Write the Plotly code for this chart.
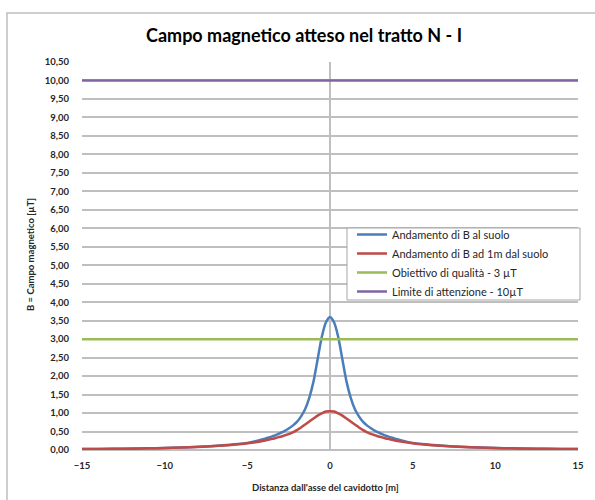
import plotly.graph_objects as go

# Distanza dall'asse del cavidotto [m]
distanza = [-15, -14, -13, -12, -11, -10, -9, -8, -7, -6, -5, -4, -3.75, -3.5, -3.25,
            -3, -2.75, -2.5, -2.25, -2, -1.75, -1.5, -1.25, -1, -0.75, -0.5, -0.25, 0,
            0.25, 0.5, 0.75, 1, 1.25, 1.5, 1.75, 2, 2.25, 2.5, 2.75, 3, 3.25, 3.5, 3.75,
            4, 5, 6, 7, 8, 9, 10, 11, 12, 13, 14, 15]

# Campo magnetico al suolo [µT]
b_suolo = [0.025, 0.029, 0.033, 0.039, 0.046, 0.055, 0.068, 0.085, 0.11, 0.145, 0.19,
           0.30, 0.33, 0.37, 0.41, 0.46, 0.51, 0.58, 0.66, 0.76, 0.91, 1.11, 1.42, 1.85,
           2.45, 3.05, 3.45, 3.60,
           3.45, 3.05, 2.45, 1.85, 1.42, 1.11, 0.91, 0.76, 0.66, 0.58, 0.51, 0.46, 0.41,
           0.37, 0.33, 0.30, 0.19, 0.145, 0.11, 0.085, 0.068, 0.055, 0.046, 0.039, 0.033,
           0.029, 0.025]

# Campo magnetico a 1 m dal suolo [µT]
b_1m = [0.024, 0.028, 0.032, 0.037, 0.044, 0.053, 0.066, 0.082, 0.105, 0.135, 0.18,
        0.25, 0.275, 0.30, 0.33, 0.36, 0.395, 0.43, 0.48, 0.54, 0.61, 0.69, 0.77, 0.85,
        0.93, 0.99, 1.04, 1.05,
        1.04, 0.99, 0.93, 0.85, 0.77, 0.69, 0.61, 0.54, 0.48, 0.43, 0.395, 0.36, 0.33,
        0.30, 0.275, 0.25, 0.18, 0.135, 0.105, 0.082, 0.066, 0.053, 0.044, 0.037, 0.032,
        0.028, 0.024]

# Soglie normative [µT]
limiti_x = [-15, 15]
obiettivo_qualita = [3, 3]
limite_attenzione = [10, 10]

nomi = ["Andamento di B al suolo", "Andamento di B ad 1m dal suolo",
        "Obiettivo di qualità - 3 µT", "Limite di attenzione - 10µT"]
colori = ["#4a7ebb", "#be4b48", "#9bbb59", "#8064a2"]

FONT = "Lato"
GRIGIO = "#bfbfbf"
PLOT_L, PLOT_T, PLOT_W, PLOT_H = 82, 62, 496, 388  # plot area in px


def px_x(p):
    """Horizontal pixel -> paper fraction."""
    return (p - PLOT_L) / PLOT_W


def px_y(p):
    """Vertical pixel (from top) -> paper fraction."""
    return (PLOT_T + PLOT_H - p) / PLOT_H


fig = go.Figure()
fig.add_trace(go.Scatter(x=distanza, y=b_suolo, mode="lines", name=nomi[0],
                         line=dict(color=colori[0], width=2.5, shape="spline", smoothing=0.8)))
fig.add_trace(go.Scatter(x=distanza, y=b_1m, mode="lines", name=nomi[1],
                         line=dict(color=colori[1], width=2.5, shape="spline", smoothing=0.8)))
fig.add_trace(go.Scatter(x=limiti_x, y=obiettivo_qualita, mode="lines", name=nomi[2],
                         line=dict(color=colori[2], width=2.5)))
fig.add_trace(go.Scatter(x=limiti_x, y=limite_attenzione, mode="lines", name=nomi[3],
                         line=dict(color=colori[3], width=2.5)))

fig.update_layout(
    width=595, height=500,
    margin=dict(l=PLOT_L, r=595 - PLOT_L - PLOT_W, t=PLOT_T, b=500 - PLOT_T - PLOT_H),
    paper_bgcolor="white", plot_bgcolor="white",
    separators=", ",
    font=dict(family=FONT, color="#262626"),
    title=dict(text="<b>Campo magnetico atteso nel tratto N - I</b>",
               x=px_x(304), xref="paper", xanchor="center",
               y=1 - 36 / 500, yref="container", yanchor="middle",
               font=dict(family=FONT, size=18, color="#000000")),
    showlegend=True,
    legend=dict(x=px_x(352), y=px_y(220), xanchor="left", yanchor="top",
                bgcolor="rgba(0,0,0,0)", borderwidth=0,
                font=dict(family=FONT, size=11, color="#262626"),
                tracegroupgap=0, itemwidth=30),
    xaxis=dict(range=[-15, 15], tickmode="array", tickvals=[-15, -10, -5, 0, 5, 10, 15],
               showgrid=False, zeroline=True, zerolinecolor=GRIGIO, zerolinewidth=1.5,
               showline=False, ticks="", ticklabelstandoff=8,
               tickfont=dict(family=FONT, size=9.5, color="#262626", weight="bold")),
    yaxis=dict(range=[0, 10.5], dtick=0.5, tick0=0, tickformat=".2f",
               showgrid=True, gridcolor=GRIGIO, gridwidth=1.5,
               zeroline=True, zerolinecolor=GRIGIO, zerolinewidth=1.5,
               showline=False, ticks="", ticklabelstandoff=12,
               tickfont=dict(family=FONT, size=9.5, color="#262626", weight="bold")),
    shapes=[
        # outer chart frame
        dict(type="rect", xref="paper", yref="paper",
             x0=px_x(7), x1=px_x(602), y0=px_y(505), y1=px_y(13),
             line=dict(color=GRIGIO, width=1.5), fillcolor="rgba(0,0,0,0)",
             layer="below"),
        # legend box
        dict(type="rect", xref="paper", yref="paper",
             x0=px_x(347), x1=px_x(580), y0=px_y(300), y1=px_y(228),
             line=dict(color="#a6a6a6", width=1), fillcolor="white",
             layer="above"),
    ],
    annotations=[
        dict(text="<b>B = Campo magnetico [µT]</b>", textangle=-90,
             x=px_x(30), y=px_y(255), xref="paper", yref="paper",
             xanchor="center", yanchor="middle", showarrow=False,
             font=dict(family=FONT, size=9.5, color="#262626")),
        dict(text="<b>Distanza dall'asse del cavidotto [m]</b>",
             x=px_x(325), y=px_y(487), xref="paper", yref="paper",
             xanchor="center", yanchor="middle", showarrow=False,
             font=dict(family=FONT, size=9.5, color="#262626")),
    ],
)

fig.write_html("out.html")
